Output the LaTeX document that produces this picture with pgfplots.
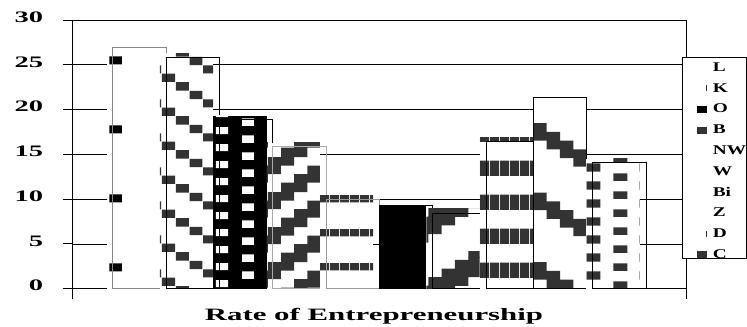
\documentclass[border=0pt]{standalone}
\usepackage{pgfplots}
\pgfplotsset{compat=1.18}
\usepackage{fontspec}
\setmainfont{Liberation Serif}[FakeStretch=1.78]
\newfontfamily\legfont{Liberation Serif}[FakeStretch=1.45]
\usetikzlibrary{patterns}
\definecolor{dk}{HTML}{333333}
\definecolor{lg}{HTML}{888888}
\definecolor{bgr}{HTML}{AAAAAA}
\definecolor{ng}{HTML}{999999}

% rectangle in px (1px = 0.75pt) plus wrapped copies: W H x y w h
\newcommand\pc[6]{%
  \pgfpathrectangle{\pgfpoint{(#3)*0.75pt}{(#4)*0.75pt}}{\pgfpoint{(#5)*0.75pt}{(#6)*0.75pt}}%
  \pgfpathrectangle{\pgfpoint{(#3-#1)*0.75pt}{(#4)*0.75pt}}{\pgfpoint{(#5)*0.75pt}{(#6)*0.75pt}}%
  \pgfpathrectangle{\pgfpoint{(#3)*0.75pt}{(#4-#2)*0.75pt}}{\pgfpoint{(#5)*0.75pt}{(#6)*0.75pt}}%
  \pgfpathrectangle{\pgfpoint{(#3-#1)*0.75pt}{(#4-#2)*0.75pt}}{\pgfpoint{(#5)*0.75pt}{(#6)*0.75pt}}%
}
\pgfdeclarepatternformonly{Lpat}{\pgfpointorigin}{\pgfpoint{39.975pt}{51.75pt}}{\pgfpoint{39.975pt}{51.75pt}}{%
  \pc{53.3}{69}{3.4}{56.3}{12.7}{8}\pgfusepath{fill}}
\pgfdeclarepatternformonly{Kpat}{\pgfpointorigin}{\pgfpoint{41.25pt}{25.725pt}}{\pgfpoint{41.25pt}{25.725pt}}{%
  \pc{55}{34.3}{11}{31.9}{13}{8.3}\pc{55}{34.3}{24.75}{23.3}{13}{8.3}%
  \pc{55}{34.3}{38.5}{14.75}{13}{8.3}\pc{55}{34.3}{52.25}{6.2}{13}{8.3}\pgfusepath{fill}}
\pgfdeclarepatternformonly{Opat}{\pgfpointorigin}{\pgfpoint{39.9pt}{12.975pt}}{\pgfpoint{39.9pt}{12.975pt}}{%
  \pc{53.2}{17.3}{3.9}{5.0}{12.3}{7.4}\pc{53.2}{17.3}{30.5}{13.65}{11.7}{7.4}\pgfusepath{fill}}
\pgfdeclarepatternformonly{Bpat}{\pgfpointorigin}{\pgfpoint{39.975pt}{25.8pt}}{\pgfpoint{39.975pt}{25.8pt}}{%
  \pc{53.3}{34.4}{15.2}{30.1}{26.6}{8.7}\pc{53.3}{34.4}{28.5}{4.3}{26.6}{8.7}%
  \pc{53.3}{34.4}{41.8}{12.9}{26.6}{8.7}\pc{53.3}{34.4}{1.8}{21.5}{26.6}{8.7}\pgfusepath{fill}}
\pgfdeclarepatternformonly{NWpat}{\pgfpointorigin}{\pgfpoint{7.5pt}{25.5pt}}{\pgfpoint{7.5pt}{25.5pt}}{%
  \pc{10}{34}{0}{23}{10}{7.5}\pgfusepath{fill}}
\pgfdeclarepatternformonly{Zpat}{\pgfpointorigin}{\pgfpoint{7.5pt}{25.5pt}}{\pgfpoint{7.5pt}{25.5pt}}{%
  \pc{10}{34}{0}{15.5}{10}{15.5}\pgfusepath{fill}}
\pgfdeclarepatternformonly{Bipat}{\pgfpointorigin}{\pgfpoint{79.95pt}{51.75pt}}{\pgfpoint{79.95pt}{51.75pt}}{%
  \pc{106.6}{69}{1.9}{23}{13.4}{25.9}\pc{106.6}{69}{15.2}{31.6}{13.4}{25.9}%
  \pc{106.6}{69}{28.5}{40.25}{13.4}{25.9}\pc{106.6}{69}{41.9}{48.9}{13.4}{25.9}%
  \pc{106.6}{69}{55.2}{57.5}{13.4}{25.9}\pc{106.6}{69}{68.5}{66.1}{13.4}{25.9}%
  \pc{106.6}{69}{81.85}{5.75}{13.4}{25.9}\pc{106.6}{69}{95.2}{14.4}{13.4}{25.9}\pgfusepath{fill}}
\pgfdeclarepatternformonly{Dpat}{\pgfpointorigin}{\pgfpoint{79.95pt}{52.125pt}}{\pgfpoint{79.95pt}{52.125pt}}{%
  \pc{106.6}{69.5}{0.3}{46.4}{13.4}{17.4}\pc{106.6}{69.5}{13.6}{37.7}{13.4}{17.4}%
  \pc{106.6}{69.5}{26.95}{29.0}{13.4}{17.4}\pc{106.6}{69.5}{40.3}{20.3}{13.4}{17.4}%
  \pc{106.6}{69.5}{53.6}{11.6}{13.4}{17.4}\pc{106.6}{69.5}{66.9}{2.95}{13.4}{17.4}%
  \pc{106.6}{69.5}{80.25}{63.75}{13.4}{17.4}\pc{106.6}{69.5}{93.6}{55.05}{13.4}{17.4}\pgfusepath{fill}}
\pgfdeclarepatternformonly{Cpat}{\pgfpointorigin}{\pgfpoint{39.975pt}{13.125pt}}{\pgfpoint{39.975pt}{13.125pt}}{%
  \pc{53.3}{17.5}{0.4}{12.7}{14}{7.5}\pc{53.3}{17.5}{27.7}{3.3}{14}{7.5}\pgfusepath{fill}}

\pgfplotsset{
  limg/.style={legend image code/.code={\path[draw=none,fill=none] (0pt,0pt) -- (17.6pt,0pt);}},
  limgbox/.style={legend image code/.code={\path[draw=none,fill=none] (0pt,0pt) -- (17.6pt,0pt);
      \fill[draw=none,#1] (10.9pt,0pt) rectangle (18.4pt,5.3pt);}},
  limgtick/.style={legend image code/.code={\path[draw=none,fill=none] (0pt,0pt) -- (17.6pt,0pt);
      \fill[draw=none,dk] (18.0pt,0.5pt) rectangle (18.6pt,5.3pt);}},
  fillbar/.style={forget plot, draw=none, bar shift=0pt},
  linebar/.style={fill=none, line width=0.75pt, bar shift=0pt},
}

\begin{document}
\begin{tikzpicture}
\begin{axis}[
  scale only axis, width=459.75pt, height=201.5pt,
  xmin=-0.2505, xmax=11.2505, ymin=0, ymax=30,
  ytick={0,5,10,15,20,25,30},
  xtick={-0.2505,11.2505}, xticklabels={},
  tick pos=left, tick align=outside, major tick length=7.5pt,
  ymajorgrids, grid style={black, line width=0.6pt},
  axis line style={black, line width=0.75pt},
  tick style={black, line width=0.75pt},
  /pgf/number format/assume math mode=true,
  yticklabel style={font=\bfseries\fontsize{12}{12}\selectfont, inner sep=0pt, xshift=-14.8pt, yshift=2.25pt},
  xlabel={Rate of Entrepreneurship},
  xlabel style={font=\bfseries\fontsize{13}{13}\selectfont, at={(axis description cs:0.491,0)}, anchor=base, yshift=-23.5pt, inner sep=0pt},
  ybar, bar width=1, bar shift=0pt,
  clip=false,
  legend style={at={(0.9927,0.864)}, anchor=north west, draw=black, line width=0.75pt, fill=white,
    inner sep=0pt, row sep=4.95pt, column sep=4.5pt, font=\legfont\bfseries\fontsize{10}{10}\selectfont,
    cells={anchor=base west}, nodes={inner sep=0pt, text height=10.65pt, text depth=0pt}},
]
\coordinate (o) at (rel axis cs:0,0);
% L
\addplot[fillbar, fill=white, postaction={pattern=Lpat, pattern color=black}] coordinates {(0.88,27.3)};
\addplot[linebar, draw=lg, limg] coordinates {(1,26.9)};
% K
\addplot[fillbar, fill=white, postaction={pattern=Kpat, pattern color=dk}] coordinates {(1.88,26.3)};
\addplot[linebar, draw=black, limgtick] coordinates {(2,25.8)};
% O
\addplot[fillbar, fill=black, postaction={pattern=Opat, pattern color=white}] coordinates {(2.88,19.3)};
\addplot[linebar, draw=black, limgbox=black] coordinates {(3,18.9)};
% B
\addplot[fillbar, fill=white, postaction={pattern=Bpat, pattern color=dk}] coordinates {(3.88,16.3)};
\addplot[linebar, draw=bgr, limgbox=dk] coordinates {(4,15.9)};
% NW
\addplot[fillbar, fill=white, postaction={pattern=NWpat, pattern color=dk}] coordinates {(4.88,10.4)};
\addplot[linebar, draw=ng, limg] coordinates {(5,10.0)};
% W
\addplot[fillbar, fill=black, bar width=0.88] coordinates {(5.94,9.3)};
\addplot[linebar, draw=black, limg] coordinates {(6,9.3)};
% Bi
\addplot[fillbar, fill=white, postaction={pattern=Bipat, pattern color=dk}] coordinates {(6.88,8.9)};
\addplot[linebar, draw=black, limg] coordinates {(7,8.4)};
% Z
\addplot[fillbar, fill=white, postaction={pattern=Zpat, pattern color=dk}] coordinates {(7.88,16.9)};
\addplot[linebar, draw=black, limg] coordinates {(8,16.4)};
% D
\addplot[fillbar, fill=white, postaction={pattern=Dpat, pattern color=dk}] coordinates {(8.88,21.4)};
\addplot[linebar, draw=black, limgtick] coordinates {(8.88,21.4)};
% C
\addplot[fillbar, fill=white, postaction={pattern=Cpat, pattern color=dk}] coordinates {(9.88,14.5)};
\addplot[linebar, draw=black, limgbox=dk] coordinates {(10,14.1)};
\legend{L,K,O,B,NW,W,Bi,Z,D,C}
\end{axis}
\pgfresetboundingbox
\path[use as bounding box] (o) ++(-54.75pt,-27.98pt) rectangle ++(560.25pt,244.5pt);
\end{tikzpicture}
\end{document}
